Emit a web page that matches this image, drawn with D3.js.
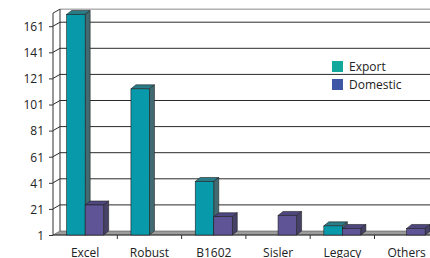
<!DOCTYPE html>
<html>
<head>
<meta charset="utf-8">
<script src="https://cdn.jsdelivr.net/npm/d3@7"></script>
<style>
body { margin:0; background:#fff; }
svg { display:block; font-family:"Open Sans", sans-serif; }
</style>
</head>
<body>
<div class="container"></div>
<script>
var categories = ["Excel", "Robust", "B1602", "Sisler", "Legacy", "Others"];
var seriesNames = ["Export", "Domestic"];
var exportValues = [170, 113, 42, 0, 8, 0];
var domesticValues = [24, 0, 15, 16, 6, 6];
var yTicks = [1, 21, 41, 61, 81, 101, 121, 141, 161];

var frontColors = {Export: "#0899ab", Domestic: "#5e5496"};
var topColors = {Export: "#2a7c88", Domestic: "#4e4780"};
var sideColors = {Export: "#426a72", Domestic: "#464166"};
var legendColors = {Export: "#12a89c", Domestic: "#3d56a6"};

var width = 430, height = 258;
var x0 = 53, floorY = 235;
var wallDx = 7, wallDy = 4;   // depth of the walls
var barDx = 5, barDy = 4;     // depth of the bars

function makeStage(w, h) {
    return d3.select(".container").insert("svg")
        .attr("width", w).attr("height", h);
}

var stage = makeStage(width, height);

var x = d3.scaleBand().domain(categories).range([x0, x0 + 6 * 64.3]).padding(0);
var bw = x.bandwidth();
var barW = bw * 0.288;
var xs = d3.scaleBand().domain(seriesNames).range([bw / 2 - barW, bw / 2 + barW]).padding(0);
var y = d3.scaleLinear().domain([1, 171]).range([floorY, floorY - 170 / 20 * 26.1]);

var topY = y(171);

// back wall top line and left wall
stage.append("line")
    .attr("x1", x0 + wallDx).attr("x2", width)
    .attr("y1", topY - wallDy).attr("y2", topY - wallDy)
    .style("stroke", "#8a8a8a").style("stroke-width", 1);
stage.append("line")
    .attr("x1", x0 + wallDx).attr("x2", x0 + wallDx)
    .attr("y1", topY - wallDy).attr("y2", floorY - wallDy)
    .style("stroke", "#333");
stage.append("line")
    .attr("x1", x0).attr("x2", x0 + wallDx)
    .attr("y1", topY).attr("y2", topY - wallDy)
    .style("stroke", "#333");

// gridlines on back wall plus diagonal on left wall
yTicks.slice(1).forEach(function(t) {
    stage.append("line")
        .attr("x1", x0 + wallDx).attr("x2", width)
        .attr("y1", y(t) - wallDy).attr("y2", y(t) - wallDy)
        .style("stroke", "#2a2a2a").style("stroke-width", 1);
    stage.append("line")
        .attr("x1", x0).attr("x2", x0 + wallDx)
        .attr("y1", y(t)).attr("y2", y(t) - wallDy)
        .style("stroke", "#2a2a2a");
});

// floor
stage.append("polygon")
    .attr("points", [[x0, floorY], [x0 + wallDx, floorY - wallDy], [width + 10, floorY - wallDy], [width + 10, floorY]].join(" "))
    .style("fill", "#9c9c9c").style("stroke", "#555").style("stroke-width", 0.6);

// y axis
var yAxis = d3.axisLeft(y).tickValues(yTicks).tickSize(4).tickFormat(d3.format("d"));
var gy = stage.append("g").attr("transform", "translate(" + x0 + ",0)").call(yAxis);
gy.select(".domain").attr("d", "M0," + topY + "V" + floorY).style("stroke", "#333");
gy.selectAll(".tick line").style("stroke", "#333");
gy.selectAll("text").style("font-size", "12px").style("fill", "#222")
    .style("font-family", "Open Sans, sans-serif").attr("x", -9).attr("dy", "0.36em");

// x axis
var gx = stage.append("g").attr("transform", "translate(0," + floorY + ")")
    .call(d3.axisBottom(x).tickSize(0));
gx.select(".domain").attr("d", "M" + x0 + ",0H" + (width + 10)).style("stroke", "#333");
gx.selectAll("text").style("font-size", "12px").style("fill", "#222")
    .style("font-family", "Open Sans, sans-serif").attr("y", 13).attr("dy", "0.71em");
categories.slice(1).forEach(function(c) {
    stage.append("line")
        .attr("x1", x(c)).attr("x2", x(c))
        .attr("y1", floorY).attr("y2", floorY + 4)
        .style("stroke", "#333");
});

// bars
var bars = [];
categories.forEach(function(c, i) {
    bars.push({cat: c, s: "Export", v: exportValues[i]});
    bars.push({cat: c, s: "Domestic", v: domesticValues[i]});
});
bars = bars.filter(function(d) { return d.v > 1; });

var g = stage.selectAll("g.bar").data(bars).enter().append("g").attr("class", "bar");
g.each(function(d) {
    var el = d3.select(this);
    var bx = x(d.cat) + xs(d.s), w = xs.bandwidth();
    var by = y(d.v);
    el.append("polygon")
        .attr("points", [[bx, by], [bx + barDx, by - barDy], [bx + w + barDx, by - barDy], [bx + w, by]].join(" "))
        .style("fill", topColors[d.s]).style("stroke", "#222").style("stroke-width", 0.6);
    el.append("polygon")
        .attr("points", [[bx + w, by], [bx + w + barDx, by - barDy], [bx + w + barDx, floorY - barDy], [bx + w, floorY]].join(" "))
        .style("fill", sideColors[d.s]).style("stroke", "#222").style("stroke-width", 0.6);
    el.append("rect")
        .attr("x", bx).attr("y", by).attr("width", w).attr("height", floorY - by)
        .style("fill", frontColors[d.s]).style("stroke", "#222").style("stroke-width", 0.6);
});

// legend
var lg = stage.append("g").attr("transform", "translate(332,61)");
seriesNames.forEach(function(s, i) {
    lg.append("rect").attr("x", 0).attr("y", i * 18).attr("width", 11).attr("height", 11)
        .style("fill", legendColors[s]);
    lg.append("text").attr("x", 17).attr("y", i * 18 + 10).text(s)
        .style("font-size", "12px").style("fill", "#222");
});
</script>
</body>
</html>
